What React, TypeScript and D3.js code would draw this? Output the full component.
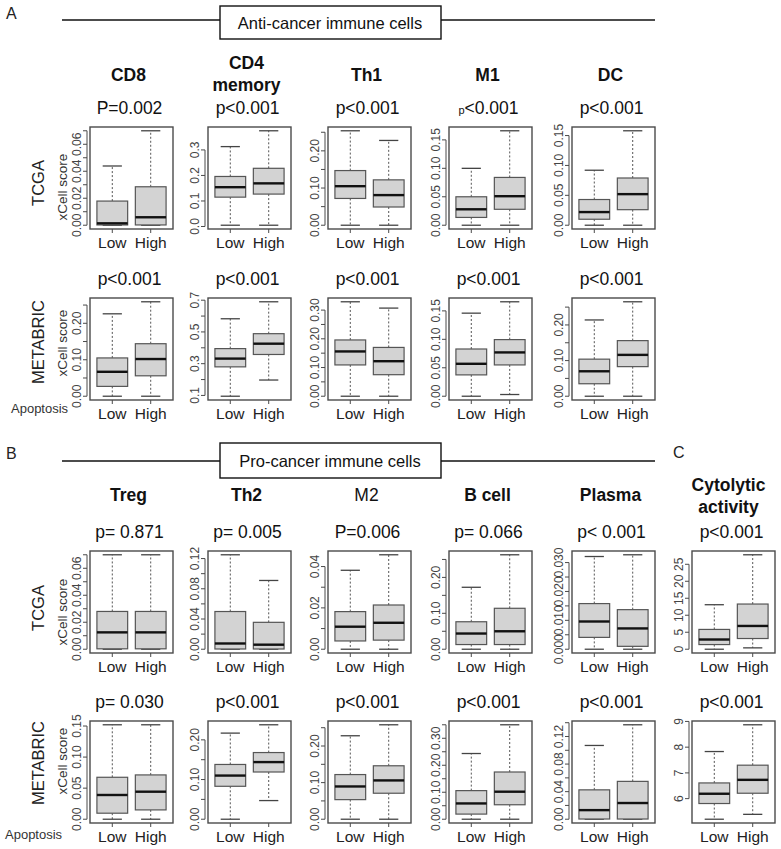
import React from "react";
import * as d3 from "d3";

// ---------- DATA ----------
const groups = ["Low", "High"];

// Panel A: anti-cancer immune cells
const antiCells = [["CD8"], ["CD4", "memory"], ["Th1"], ["M1"], ["DC"]];
const antiTcgaP = ["P=0.002", "p<0.001", "p<0.001", "p<0.001", "p<0.001"];
const antiMetabricP = ["p<0.001", "p<0.001", "p<0.001", "p<0.001", "p<0.001"];
// stats: [lower whisker, Q1, median, Q3, upper whisker]
const antiTcgaLow = [
  [0, 0.0002, 0.0014, 0.0179, 0.0439],
  [0.005, 0.115, 0.154, 0.196, 0.313],
  [0, 0.072, 0.105, 0.147, 0.254],
  [0, 0.0137, 0.028, 0.05, 0.1],
  [0, 0.01, 0.022, 0.043, 0.092],
];
const antiTcgaHigh = [
  [0, 0.0002, 0.0059, 0.0285, 0.07],
  [0.005, 0.127, 0.169, 0.228, 0.375],
  [0, 0.049, 0.081, 0.122, 0.228],
  [0, 0.028, 0.051, 0.084, 0.166],
  [0, 0.026, 0.052, 0.079, 0.158],
];
const antiMetabricLow = [
  [0, 0.027, 0.067, 0.105, 0.226],
  [0.095, 0.28, 0.332, 0.395, 0.583],
  [0, 0.109, 0.156, 0.196, 0.329],
  [0, 0.0375, 0.057, 0.083, 0.146],
  [0, 0.035, 0.07, 0.104, 0.214],
];
const antiMetabricHigh = [
  [0, 0.056, 0.102, 0.144, 0.259],
  [0.197, 0.358, 0.426, 0.489, 0.69],
  [0, 0.075, 0.122, 0.17, 0.307],
  [0.003, 0.055, 0.077, 0.0995, 0.166],
  [0, 0.083, 0.116, 0.156, 0.265],
];
// tick spec: [start, stop, step]
const antiTcgaTicks = [[0, 0.07, 0.01], [0, 0.3, 0.1], [0, 0.25, 0.05], [0, 0.15, 0.05], [0, 0.15, 0.05]];
const antiTcgaLabels = [
  ["0.00", "0.02", "0.04", "0.06"],
  ["0.0", "0.1", "0.2", "0.3"],
  ["0.00", "0.10", "0.20"],
  ["0.00", "0.05", "0.10", "0.15"],
  ["0.00", "0.05", "0.10", "0.15"],
];
const antiMetabricTicks = [[0, 0.25, 0.05], [0.1, 0.7, 0.1], [0, 0.3, 0.05], [0, 0.15, 0.05], [0, 0.25, 0.05]];
const antiMetabricLabels = [
  ["0.00", "0.10", "0.20"],
  ["0.1", "0.3", "0.5", "0.7"],
  ["0.00", "0.10", "0.20", "0.30"],
  ["0.00", "0.05", "0.10", "0.15"],
  ["0.00", "0.10", "0.20"],
];

// Panel B: pro-cancer immune cells
const proCells = [["Treg"], ["Th2"], ["M2"], ["B cell"], ["Plasma"]];
const proBold = [true, true, false, true, true];
const proTcgaP = ["p= 0.871", "p= 0.005", "P=0.006", "p= 0.066", "p< 0.001"];
const proMetabricP = ["p= 0.030", "p<0.001", "p<0.001", "p<0.001", "p<0.001"];
const proTcgaLow = [
  [0, 0.0003, 0.0125, 0.028, 0.07],
  [0, 0.0003, 0.0076, 0.0499, 0.125],
  [0, 0.004, 0.0109, 0.0182, 0.0382],
  [0, 0.013, 0.0437, 0.0765, 0.1725],
  [0, 0.0041, 0.0096, 0.0158, 0.0321],
];
const proTcgaHigh = [
  [0, 0.0003, 0.0125, 0.028, 0.07],
  [0, 0.0003, 0.006, 0.0356, 0.091],
  [0, 0.0044, 0.0128, 0.0214, 0.0457],
  [0, 0.013, 0.05, 0.114, 0.263],
  [0, 0.001, 0.0072, 0.0137, 0.0327],
];
const proMetabricLow = [
  [0, 0.0097, 0.039, 0.0675, 0.152],
  [0, 0.083, 0.11, 0.138, 0.217],
  [0, 0.0535, 0.0895, 0.122, 0.228],
  [0, 0.019, 0.0585, 0.106, 0.2435],
  [0, 0.0003, 0.0132, 0.0426, 0.107],
];
const proMetabricHigh = [
  [0, 0.015, 0.0443, 0.0713, 0.152],
  [0.047, 0.119, 0.144, 0.168, 0.238],
  [0, 0.071, 0.106, 0.146, 0.258],
  [0, 0.0536, 0.102, 0.175, 0.35],
  [0, 0.0003, 0.0235, 0.0549, 0.137],
];
const proTcgaTicks = [[0, 0.07, 0.01], [0, 0.12, 0.02], [0, 0.04, 0.01], [0, 0.25, 0.05], [0, 0.03, 0.005]];
const proTcgaLabels = [
  ["0.00", "0.02", "0.04", "0.06"],
  ["0.00", "0.04", "0.08", "0.12"],
  ["0.00", "0.02", "0.04"],
  ["0.00", "0.10", "0.20"],
  ["0.000", "0.010", "0.020", "0.030"],
];
const proMetabricTicks = [[0, 0.15, 0.05], [0, 0.2, 0.05], [0, 0.25, 0.05], [0, 0.35, 0.05], [0, 0.14, 0.02]];
const proMetabricLabels = [
  ["0.00", "0.05", "0.10", "0.15"],
  ["0.00", "0.10", "0.20"],
  ["0.00", "0.10", "0.20"],
  ["0.00", "0.10", "0.20", "0.30"],
  ["0.00", "0.04", "0.08", "0.12"],
];

// Panel C: cytolytic activity
const cytoTitle = ["Cytolytic", "activity"];
const cytoTcgaP = "p<0.001";
const cytoMetabricP = "p<0.001";
const cytoTcgaLow = [0, 1.37, 2.86, 5.83, 13.1];
const cytoTcgaHigh = [0.4, 3.15, 6.85, 13.3, 27.8];
const cytoMetabricLow = [5.2, 5.81, 6.19, 6.61, 7.83];
const cytoMetabricHigh = [5.39, 6.21, 6.73, 7.3, 8.87];
const cytoTcgaTicks = [0, 25, 5];
const cytoTcgaLabels = ["0", "5", "10", "15", "20", "25"];
const cytoMetabricTicks = [6, 9, 1];
const cytoMetabricLabels = ["6", "7", "8", "9"];

// ---------- LAYOUT ----------
const FONT = "Liberation Sans, Arial, Helvetica, sans-serif";
const W = 781;
const H = 849;
const colLeft = [90, 208, 328, 449, 572];
const cLeft = 692;
const FW = 83;
const FH = 102;
const rowTop = { aT: 127, aM: 298, bT: 551, bM: 721 };
const FRAME = "#4a4a4a";

function BoxPanel({ left, top, low, high, tickSpec, labels, p, smallP }: any) {
  const lo = Math.min(low[0], high[0]);
  const hi = Math.max(low[4], high[4]);
  const pad = (hi - lo) * 0.04;
  const y = d3.scaleLinear().domain([lo - pad, hi + pad]).range([top + FH, top]);
  const x = d3.scaleLinear().domain([0.42, 2.58]).range([left, left + FW]);
  const ticks = d3.range(tickSpec[0], tickSpec[1] + tickSpec[2] / 2, tickSpec[2]);
  const axisX = left - 3;
  const bw = x(1.4) - x(1);
  const cw = x(1.25) - x(1);
  const cx = left + FW / 2 - 2;
  return (
    <g>
      <text x={cx} y={top - 13} textAnchor="middle" fontSize={17.5} fill="#111">
        {smallP ? (
          <>
            <tspan fontSize={11}>p</tspan>
            <tspan>{p.slice(1)}</tspan>
          </>
        ) : (
          p
        )}
      </text>
      {/* y axis */}
      <line x1={axisX} x2={axisX} y1={y(ticks[0])} y2={y(ticks[ticks.length - 1])} stroke={FRAME} strokeWidth={1} />
      {ticks.map((t: number, i: number) => (
        <line key={"t" + i} x1={axisX - 4} x2={axisX} y1={y(t)} y2={y(t)} stroke={FRAME} strokeWidth={1} />
      ))}
      {labels.map((l: string, i: number) => (
        <text
          key={"l" + i}
          transform={`translate(${left - 9},${y(parseFloat(l))}) rotate(-90)`}
          textAnchor="middle"
          fontSize={12}
          fill="#444"
        >
          {l}
        </text>
      ))}
      {/* boxes */}
      {[low, high].map((s: number[], i: number) => {
        const c = x(i + 1);
        return (
          <g key={"b" + i}>
            <line x1={c} x2={c} y1={y(s[3])} y2={y(s[4])} stroke="#555" strokeWidth={1} strokeDasharray="2,2" />
            <line x1={c} x2={c} y1={y(s[1])} y2={y(s[0])} stroke="#555" strokeWidth={1} strokeDasharray="2,2" />
            <line x1={c - cw} x2={c + cw} y1={y(s[4])} y2={y(s[4])} stroke="#444" strokeWidth={1.3} />
            <line x1={c - cw} x2={c + cw} y1={y(s[0])} y2={y(s[0])} stroke="#444" strokeWidth={1.3} />
            <rect x={c - bw} y={y(s[3])} width={2 * bw} height={Math.max(0.5, y(s[1]) - y(s[3]))} fill="#d3d3d3" stroke="#555" strokeWidth={1.2} />
            <line x1={c - bw} x2={c + bw} y1={y(s[2])} y2={y(s[2])} stroke="#111" strokeWidth={2.4} />
            <line x1={c} x2={c} y1={top + FH} y2={top + FH + 4} stroke={FRAME} strokeWidth={1} />
            <text x={c} y={top + FH + 19} textAnchor="middle" fontSize={15.5} fill="#222">
              {groups[i]}
            </text>
          </g>
        );
      })}
      <rect x={left} y={top} width={FW} height={FH} fill="none" stroke={FRAME} strokeWidth={1.4} />
    </g>
  );
}

function Title({ cx, lines, bold, y1 }: any) {
  if (lines.length === 1) {
    return (
      <text x={cx} y={y1} textAnchor="middle" fontSize={17.5} fontWeight={bold ? "bold" : "normal"} fill="#111">
        {lines[0]}
      </text>
    );
  }
  return (
    <g>
      {lines.map((l: string, i: number) => (
        <text key={i} x={cx} y={y1 - 12 + i * 22} textAnchor="middle" fontSize={17.5} fontWeight="bold" fill="#111">
          {l}
        </text>
      ))}
    </g>
  );
}

function RowLabel({ cy, label, cy2 }: any) {
  return (
    <g>
      <text transform={`translate(44,${cy}) rotate(-90)`} textAnchor="middle" fontSize={16.5} fill="#222">
        {label}
      </text>
      <text transform={`translate(67,${cy2}) rotate(-90)`} textAnchor="middle" fontSize={13.5} fill="#333">
        xCell score
      </text>
    </g>
  );
}

function Header({ y, boxTop, boxBottom, text, textY }: any) {
  return (
    <g>
      <line x1={62} x2={655} y1={y} y2={y} stroke="#111" strokeWidth={1.6} />
      <rect x={220} y={boxTop} width={221} height={boxBottom - boxTop} fill="#fff" stroke="#111" strokeWidth={1.4} />
      <text x={330} y={textY} textAnchor="middle" fontSize={16.5} fill="#111">
        {text}
      </text>
    </g>
  );
}

export default function App() {
  return (
    <svg
      width={W}
      height={H}
      viewBox={`0 0 ${W} ${H}`}
      style={{ position: "absolute", left: 0, top: 0, background: "#fff" }}
      fontFamily={FONT}
    >
      <rect x={0} y={0} width={W} height={H} fill="#fff" />
      {/* Section A */}
      <text x={6} y={19} fontSize={16} fill="#222">A</text>
      <Header y={20} boxTop={6} boxBottom={39} text="Anti-cancer immune cells" textY={29} />
      {antiCells.map((lines, i) => (
        <Title key={"at" + i} cx={colLeft[i] + FW / 2 - 3} lines={lines} bold={true} y1={81} />
      ))}
      <RowLabel cy={183} cy2={187} label="TCGA" />
      <RowLabel cy={342} cy2={343} label="METABRIC" />
      <text x={11} y={413} fontSize={13} fill="#333">Apoptosis</text>
      {antiCells.map((_, i) => (
        <BoxPanel
          key={"aT" + i}
          left={colLeft[i]}
          top={rowTop.aT}
          low={antiTcgaLow[i]}
          high={antiTcgaHigh[i]}
          tickSpec={antiTcgaTicks[i]}
          labels={antiTcgaLabels[i]}
          p={antiTcgaP[i]}
          smallP={i === 3}
        />
      ))}
      {antiCells.map((_, i) => (
        <BoxPanel
          key={"aM" + i}
          left={colLeft[i]}
          top={rowTop.aM}
          low={antiMetabricLow[i]}
          high={antiMetabricHigh[i]}
          tickSpec={antiMetabricTicks[i]}
          labels={antiMetabricLabels[i]}
          p={antiMetabricP[i]}
        />
      ))}

      {/* Section B */}
      <text x={6} y={459} fontSize={16} fill="#222">B</text>
      <Header y={461} boxTop={443} boxBottom={478} text="Pro-cancer immune cells" textY={467} />
      {proCells.map((lines, i) => (
        <Title key={"bt" + i} cx={colLeft[i] + FW / 2 - 3} lines={lines} bold={proBold[i]} y1={501} />
      ))}
      <RowLabel cy={608} cy2={612} label="TCGA" />
      <RowLabel cy={763} cy2={761} label="METABRIC" />
      <text x={5} y={839} fontSize={13} fill="#333">Apoptosis</text>
      {proCells.map((_, i) => (
        <BoxPanel
          key={"bT" + i}
          left={colLeft[i]}
          top={rowTop.bT}
          low={proTcgaLow[i]}
          high={proTcgaHigh[i]}
          tickSpec={proTcgaTicks[i]}
          labels={proTcgaLabels[i]}
          p={proTcgaP[i]}
        />
      ))}
      {proCells.map((_, i) => (
        <BoxPanel
          key={"bM" + i}
          left={colLeft[i]}
          top={rowTop.bM}
          low={proMetabricLow[i]}
          high={proMetabricHigh[i]}
          tickSpec={proMetabricTicks[i]}
          labels={proMetabricLabels[i]}
          p={proMetabricP[i]}
        />
      ))}

      {/* Section C */}
      <text x={673} y={458} fontSize={16} fill="#222">C</text>
      <Title cx={cLeft + FW / 2 - 5} lines={cytoTitle} bold={true} y1={503} />
      <BoxPanel
        left={cLeft}
        top={rowTop.bT}
        low={cytoTcgaLow}
        high={cytoTcgaHigh}
        tickSpec={cytoTcgaTicks}
        labels={cytoTcgaLabels}
        p={cytoTcgaP}
      />
      <BoxPanel
        left={cLeft}
        top={rowTop.bM}
        low={cytoMetabricLow}
        high={cytoMetabricHigh}
        tickSpec={cytoMetabricTicks}
        labels={cytoMetabricLabels}
        p={cytoMetabricP}
      />
    </svg>
  );
}
